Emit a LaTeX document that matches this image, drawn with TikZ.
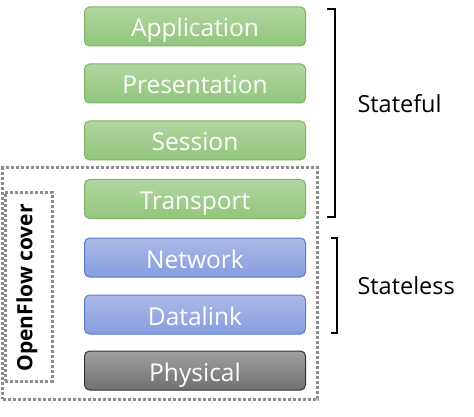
\documentclass[tikz,border=0pt]{standalone}
\usepackage{fontspec}
\setmainfont{Open Sans}
\definecolor{gtop}{RGB}{176,214,160}
\definecolor{gbot}{RGB}{146,198,124}
\definecolor{gbrd}{RGB}{124,180,100}
\definecolor{btop}{RGB}{170,186,232}
\definecolor{bbot}{RGB}{134,158,222}
\definecolor{bbrd}{RGB}{88,124,206}
\definecolor{ktop}{RGB}{160,160,160}
\definecolor{kbot}{RGB}{112,112,112}
\definecolor{kbrd}{RGB}{50,50,50}
\definecolor{dotc}{RGB}{140,140,140}
\begin{document}
\begin{tikzpicture}[x=1pt,y=-1pt,
  layer/.style={rounded corners=5pt, minimum width=221pt, minimum height=39pt, inner sep=0pt, text height=21pt, text depth=0pt, text=white, font=\fontsize{24.5}{28}\selectfont, line width=1pt},
  green/.style={layer, draw=gbrd, top color=gtop, bottom color=gbot},
  blue/.style={layer, draw=bbrd, top color=btop, bottom color=bbot},
  grey/.style={layer, draw=kbrd, top color=ktop, bottom color=kbot},
  dotbox/.style={draw=dotc, line width=3pt, dash pattern=on 3pt off 2pt},
  brace/.style={draw=black, line width=2pt},
  side/.style={font=\fontsize{23.5}{27}\selectfont, anchor=west}]
\useasboundingbox (0,0) rectangle (474,417);
\node[dotbox, minimum width=315pt, minimum height=231pt, inner sep=0pt] (outer) at (160,283.5) {};
\node[dotbox, minimum width=47pt, minimum height=189pt, inner sep=0pt] (inner) at (28.5,286.5) {};
\node[rotate=90, font=\bfseries\fontsize{21}{24}\selectfont] (ofc) at (27,288) {OpenFlow cover};
\node[green] (app) at (195,26.5) {Application};
\node[green] (pre) at (195,83.5) {Presentation};
\node[green] (ses) at (195,140.5) {Session};
\node[green] (tra) at (195,199) {Transport};
\node[blue] (net) at (195,257.5) {Network};
\node[blue] (dat) at (195,314.5) {Datalink};
\node[grey] (phy) at (195,370.5) {Physical};
\coordinate (sf1) at (327,9);
\coordinate (sf2) at (335,9);
\coordinate (sf3) at (335,217);
\coordinate (sf4) at (327,217);
\draw[brace] (sf1) -- (sf2) -- (sf3) -- (sf4);
\coordinate (sl1) at (331,238);
\coordinate (sl2) at (337,238);
\coordinate (sl3) at (337,333);
\coordinate (sl4) at (331,333);
\draw[brace] (sl1) -- (sl2) -- (sl3) -- (sl4);
\node[side] (sful) at (354,104) {Stateful};
\node[side] (sless) at (354,286) {Stateless};
\end{tikzpicture}
\end{document}
